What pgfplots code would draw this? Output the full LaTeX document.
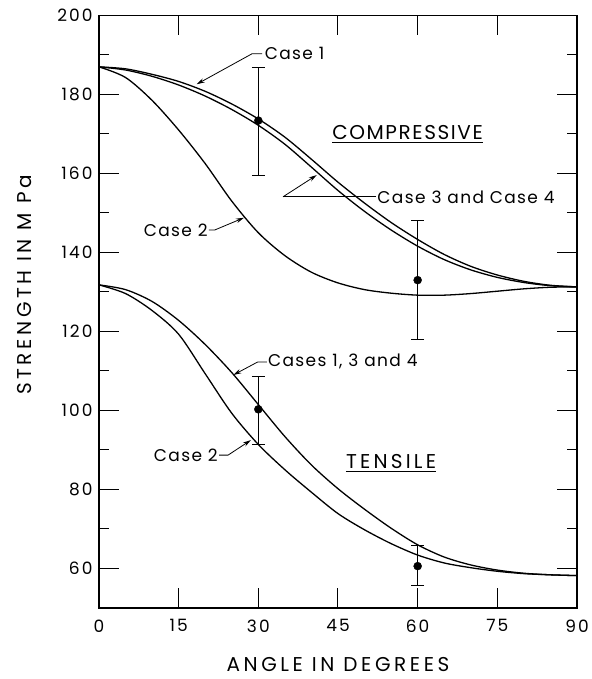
\documentclass[border=0pt]{standalone}
\usepackage{pgfplots}
\pgfplotsset{compat=1.18}
\usepackage{fontspec}
\setmainfont{Poppins}[LetterSpace=8]
\usetikzlibrary{arrows.meta}

\pgfplotstableread{
x y
0 187.0
5 186.5
10 185.1
15 183.3
20 180.8
25 177.6
30 173.8
35 169.2
40 163.6
45 157.8
50 152.5
55 147.6
60 143.3
65 139.5
70 136.5
75 134.3
80 132.7
85 131.7
90 131.3
}\compA

\pgfplotstableread{
x y
0 187.0
5 186.2
10 184.6
15 182.4
20 179.6
25 176.2
30 172.2
35 167.4
40 161.6
45 155.7
50 150.4
55 145.7
60 141.6
65 138.2
70 135.6
75 133.7
80 132.4
85 131.6
90 131.3
}\compB

\pgfplotstableread{
x y
0 187.0
5 184.3
10 178.5
15 171.0
20 162.5
25 153.0
30 145.0
35 139.2
40 135.0
45 132.3
50 130.6
55 129.7
60 129.2
65 129.2
70 129.6
75 130.2
80 130.8
85 131.2
90 131.3
}\compC

\pgfplotstableread{
x y
0 131.8
5 130.6
10 127.6
15 122.8
20 116.7
25 109.6
30 101.5
35 93.4
40 86.2
45 80.2
50 75.0
55 70.2
60 66.0
65 62.9
70 60.9
75 59.6
80 58.8
85 58.4
90 58.2
}\tensA

\pgfplotstableread{
x y
0 131.8
5 129.6
10 125.3
15 119.3
20 109.3
25 99.3
30 91.4
35 85.0
40 79.3
45 73.9
50 69.8
55 66.3
60 63.4
65 61.4
70 60.2
75 59.3
80 58.7
85 58.4
90 58.2
}\tensB

\begin{document}
\begin{tikzpicture}
\begin{axis}[
  name=ax, at={(0,0)}, anchor=south west,
  scale only axis, width=478pt, height=592.5pt,
  xmin=0, xmax=90, ymin=50, ymax=200,
  xtick={0,15,...,90}, ytick={60,80,...,200},
  minor y tick num=1,
  tick align=inside,
  xtick pos=both, ytick pos=both,
  major tick length=20pt, minor tick length=10pt,
  tick style={line width=1pt, black},
  axis line style={line width=1.2pt},
  clip=false,
  /pgf/number format/assume math mode=true,
  ticklabel style={font=\fontsize{17}{19}\selectfont\addfontfeature{LetterSpace=12}},
  xticklabel style={yshift=-8pt},
  yticklabel style={xshift=-3pt},
  xlabel={ANGLE IN DEGREES}, ylabel={STRENGTH IN M Pa},
  label style={font=\fontsize{20}{22}\selectfont\addfontfeature{LetterSpace=18}},
  xlabel style={at={(axis description cs:0.5,-0.095)}, anchor=center},
  ylabel style={at={(axis description cs:-0.156,0.545)}, anchor=center},
]
\addplot[black, line width=1.3pt, smooth, no markers] table {\compA};
\addplot[black, line width=1.3pt, smooth, no markers] table {\compB};
\addplot[black, line width=1.3pt, smooth, no markers] table {\compC};
\addplot[black, line width=1.3pt, smooth, no markers] table {\tensA};
\addplot[black, line width=1.3pt, smooth, no markers] table {\tensB};

\addplot[black, only marks, mark=*, mark size=4pt,
  error bars/.cd, y dir=both, y explicit,
  error bar style={line width=1pt},
  error mark options={rotate=90, mark size=6.5pt, line width=1pt}]
  coordinates {
  (30,173.4) += (0,13.4) -= (0,14.0)
  (60,133.0) += (0,15.0) -= (0,15.0)
  (30,100.3) += (0,8.4) -= (0,8.9)
  (60,60.6) += (0,5.2) -= (0,4.8)
  };

\begin{scope}[font=\fontsize{17}{19}\selectfont]
\draw[line width=0.8pt, -{Stealth[length=8pt,width=4.5pt]}] (axis cs:30.7,190.3) -- (axis cs:28.8,190.3) -- (axis cs:18.4,182.6);
\node[anchor=west, inner sep=0pt] at (axis cs:31.2,190.3) {Case 1};

\draw[line width=0.8pt] (axis cs:52.2,154.1) -- (axis cs:34.65,154.1);
\draw[line width=0.8pt, -{Stealth[length=8pt,width=4.5pt]}] (axis cs:34.65,154.1) -- (axis cs:41.0,159.6);
\node[anchor=west, inner sep=0pt] at (axis cs:52.4,154.1) {Case 3 and Case 4};

\draw[line width=0.8pt, -{Stealth[length=8pt,width=4.5pt]}] (axis cs:20.7,145.7) -- (axis cs:21.8,145.7) -- (axis cs:27.3,148.8);
\node[anchor=east, inner sep=0pt] at (axis cs:20.5,145.7) {Case 2};

\draw[line width=0.8pt, -{Stealth[length=8pt,width=4.5pt]}] (axis cs:31.6,112.3) -- (axis cs:29.9,112.3) -- (axis cs:25.3,109.0);
\node[anchor=west, inner sep=0pt] at (axis cs:31.8,112.3) {Cases 1, 3 and 4};

\draw[line width=0.8pt, -{Stealth[length=8pt,width=4.5pt]}] (axis cs:22.6,88.7) -- (axis cs:24.3,88.7) -- (axis cs:28.6,92.5);
\node[anchor=east, inner sep=0pt] at (axis cs:22.4,88.7) {Case 2};
\end{scope}

\node[font=\fontsize{20}{22}\selectfont, inner xsep=0pt, inner ysep=2.5pt] (comp) at (axis cs:58.1,170.3) {COMPRESSIVE};
\draw[line width=1pt] (comp.south west) -- (comp.south east);
\node[font=\fontsize{20}{22}\selectfont\addfontfeature{LetterSpace=16}, inner xsep=0pt, inner ysep=2.5pt] (tens) at (axis cs:55.0,87.0) {TENSILE};
\draw[line width=1pt] (tens.south west) -- (tens.south east);
\end{axis}
\pgfresetboundingbox
\path[use as bounding box] ([xshift=-99pt,yshift=-71pt]ax.south west) rectangle ([xshift=15pt,yshift=15.5pt]ax.north east);
\end{tikzpicture}
\end{document}
